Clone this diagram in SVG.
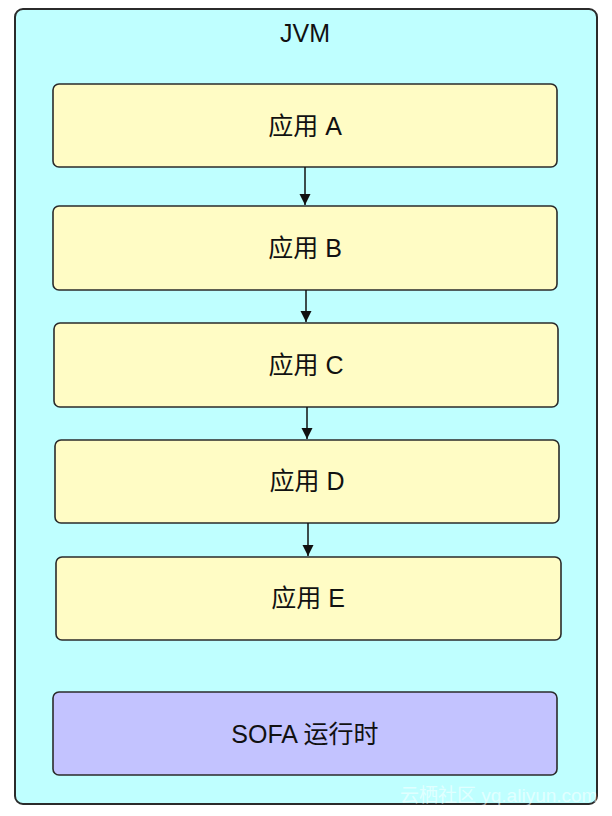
<svg xmlns="http://www.w3.org/2000/svg" width="612" height="816" viewBox="0 0 612 816">
<style>
.box{stroke:#2b2b2b;stroke-width:1.6}
.app{fill:#fffcc5}
.t{font-family:"Liberation Sans","Noto Sans CJK SC",sans-serif;font-size:25px;fill:#111;text-anchor:middle}
.wm{font-family:"Liberation Sans","Noto Sans CJK SC",sans-serif;font-size:19px;fill:#ffffff;fill-opacity:0.55}
.edge{stroke:#111;stroke-width:1.5;fill:none}
</style>
<defs>
<marker id="ah" markerWidth="11" markerHeight="14" refX="11" refY="7" orient="auto" markerUnits="userSpaceOnUse" viewBox="0 0 11 14">
<path d="M0,1.5 L11,7 L0,12.5 Z" fill="#111"/>
</marker>
</defs>
<rect width="612" height="816" fill="#ffffff"/>
<g id="jvm">
<rect x="15" y="9" width="582" height="795" rx="8" fill="#bfffff" stroke="#2b2b2b" stroke-width="2"/>
<text class="t" x="305" y="42">JVM</text>
</g>
<g id="appA">
<rect class="box app" x="53" y="84" width="504" height="83" rx="6"/>
<text class="t" x="305" y="135">应用 A</text>
</g>
<g id="appB">
<rect class="box app" x="53" y="206" width="504" height="84" rx="6"/>
<text class="t" x="305" y="257">应用 B</text>
</g>
<g id="appC">
<rect class="box app" x="54" y="323" width="504" height="84" rx="6"/>
<text class="t" x="306" y="374">应用 C</text>
</g>
<g id="appD">
<rect class="box app" x="55" y="440" width="504" height="83" rx="6"/>
<text class="t" x="307" y="490">应用 D</text>
</g>
<g id="appE">
<rect class="box app" x="56" y="557" width="505" height="83" rx="6"/>
<text class="t" x="308" y="607">应用 E</text>
</g>
<g id="sofa">
<rect class="box" x="53" y="692" width="504" height="83" rx="6" fill="#c3c3ff"/>
<text class="t" x="305" y="743">SOFA 运行时</text>
</g>
<g id="connectors">
<line class="edge" x1="305" y1="167" x2="305" y2="205" marker-end="url(#ah)"/>
<line class="edge" x1="306" y1="290" x2="306" y2="322" marker-end="url(#ah)"/>
<line class="edge" x1="307" y1="407" x2="307" y2="439" marker-end="url(#ah)"/>
<line class="edge" x1="308" y1="523" x2="308" y2="556" marker-end="url(#ah)"/>
</g>
<text class="wm" x="400" y="802">云栖社区 yq.aliyun.com</text>
</svg>
